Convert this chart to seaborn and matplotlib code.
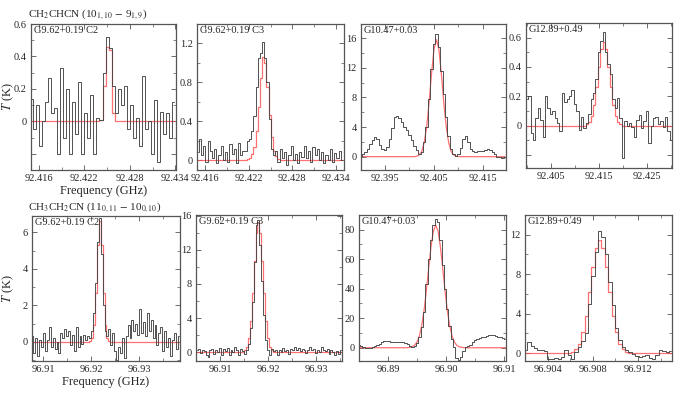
import numpy as np
import matplotlib
matplotlib.use('Agg')
import matplotlib.pyplot as plt
import seaborn as sns
from matplotlib.ticker import FixedLocator, FixedFormatter, MultipleLocator, FuncFormatter, AutoMinorLocator

sns.set_style('ticks')
plt.rcParams['font.family'] = ['Liberation Serif', 'DejaVu Serif']
plt.rcParams['mathtext.fontset'] = 'stix'

# ---- CH2CHCN (10_1,10 - 9_1,9) ----
# G9.62+0.19 C2 : first channel (GHz), channel width (GHz), spectrum and fit (K)
f0_1, df_1 = 92.4150, 0.0004
obs_1 = [0.14, -0.05, 0.10, -0.15, 0.00, 0.12, 0.27, 0.05, 0.08, -0.20,
         0.33, -0.10, 0.20, -0.20, 0.12, -0.08, 0.24, -0.20, 0.05, -0.10,
         0.16, -0.20, 0.02, 0.01, 0.30, 0.52, 0.45, 0.22, 0.05, 0.20,
         0.10, 0.22, -0.05, 0.10, -0.10, 0.02, -0.15, 0.28, -0.05, 0.00,
         -0.20, 0.13, -0.25, 0.06, -0.08, 0.05, -0.10, 0.12]
fit_1 = [0.0] * 23 + [0.01, 0.22, 0.46, 0.44, 0.05] + [0.0] * 20

# G9.62+0.19 C3
f0_2, df_2 = 92.4150, 0.0003
obs_2 = [0.08, 0.22, 0.05, 0.15, -0.02, 0.20, 0.10, 0.02, 0.12, -0.03,
         0.05, 0.15, 0.00, 0.08, -0.02, 0.17, 0.06, 0.12, -0.03, 0.18,
         0.05, 0.10, 0.10, 0.20, 0.22, 0.30, 0.45, 0.75, 1.05, 1.10,
         1.22, 1.05, 0.80, 0.42, 0.12, 0.05, 0.10, -0.02, 0.12, 0.02,
         0.08, -0.05, 0.05, 0.15, 0.00, 0.06, -0.03, 0.08, 0.03, 0.15,
         0.02, 0.10, -0.02, 0.14, 0.05, 0.12, 0.00, 0.08, -0.03, 0.05,
         0.00, 0.12, -0.02, 0.07, 0.02, 0.10, 0.00]
fit_2 = [0.0] * 23 + [0.01, 0.02, 0.06, 0.14, 0.30, 0.55, 0.85, 1.06, 1.00, 0.75,
                      0.46, 0.24, 0.10, 0.04, 0.01] + [0.0] * 29

# G10.47+0.03
f0_3, df_3 = 92.3900, 0.0005
obs_3 = [0.1, 0.3, 0.6, 1.1, 1.7, 2.2, 2.6, 2.4, 1.6, 1.0,
         0.9, 1.3, 2.4, 3.8, 5.3, 5.5, 5.2, 4.7, 4.0, 3.6,
         2.9, 2.2, 1.5, 0.9, 0.3, 0.6, 2.0, 4.0, 7.8, 11.8,
         15.2, 16.5, 14.8, 11.5, 8.5, 5.4, 2.8, 1.0, 0.3, 0.1,
         0.4, 1.2, 2.4, 2.8, 2.0, 1.1, 0.7, 0.6, 0.7, 0.8,
         0.8, 0.9, 1.0, 0.9, 0.6, 0.4, 0.0, -0.1, -0.2, -0.1]
fit_3 = [0.0] * 23 + [0.07, 0.24, 0.7, 1.9, 4.0, 7.3, 11.2, 14.5, 15.8, 14.5,
                      11.2, 7.3, 4.0, 1.9, 0.7, 0.24, 0.07] + [0.0] * 20

# G12.89+0.49
f0_4, df_4 = 92.4000, 0.0005
obs_4 = [0.18, 0.20, -0.05, -0.10, 0.05, 0.12, 0.04, -0.08, 0.20, 0.12,
         0.08, 0.10, 0.05, 0.02, -0.04, 0.22, 0.16, 0.18, 0.20, 0.24,
         0.15, 0.10, -0.03, 0.06, -0.02, 0.02, 0.08, 0.18, 0.22, 0.32,
         0.50, 0.58, 0.64, 0.50, 0.42, 0.35, 0.18, 0.12, 0.19, 0.05,
         -0.22, 0.03, 0.00, 0.02, -0.01, -0.08, 0.04, 0.07, -0.02, 0.03,
         0.10, -0.12, 0.00, 0.05, 0.06, 0.01, 0.03, -0.01, 0.06, -0.04,
         -0.10]
fit_4 = [0.0] * 25 + [0.008, 0.025, 0.067, 0.14, 0.26, 0.40, 0.52, 0.57, 0.52, 0.40,
                      0.26, 0.14, 0.067, 0.025, 0.008] + [0.0] * 21

# ---- CH3CH2CN (11_0,11 - 10_0,10) ----
f0_5, df_5 = 96.9078, 0.0004
obs_5 = [0.3, -0.6, 0.2, -0.8, 0.1, -0.3, 0.5, -0.5, 0.1, 0.8,
         -0.3, 0.2, -0.4, 0.0, -0.6, 0.5, 0.2, 0.7, 0.3, 0.6,
         -0.2, 0.4, -0.5, 0.8, -0.3, 0.3, -0.1, 0.4, 0.1, 0.3,
         0.2, 0.6, 1.6, 3.2, 5.5, 6.8, 4.8, 2.0, 0.6, 0.3,
         0.7, -0.2, 0.5, -0.5, -1.0, -0.3, -0.6, 0.2, -0.9, 0.3,
         0.9, 0.2, 1.2, 0.6, 1.0, 0.4, 1.8, 0.5, 1.1, 0.3,
         1.6, 0.6, 1.2, 0.2, 0.9, -0.2, 0.5, 0.8, -0.5, 0.6,
         -0.3, 0.2, -0.8, 0.1, 0.5, -0.4, 0.3]
fit_5 = [0.0] * 30 + [0.02, 0.19, 0.9, 2.7, 5.3, 6.6, 5.3, 2.7, 0.9, 0.19, 0.02] + [0.0] * 36

f0_6, df_6 = 96.9052, 0.0004
obs_6 = [0.2, 0.4, -0.1, 0.3, 0.1, -0.4, -0.6, 0.2, 0.4, -0.2,
         0.3, 0.0, 0.5, -0.3, 0.4, 0.1, 0.5, -0.4, 0.3, 0.0,
         0.6, 0.2, -0.3, 0.4, 0.1, -0.2, 0.3, 0.9, 2.8, 5.9,
         10.6, 14.9, 15.5, 12.6, 8.3, 4.4, 1.4, 0.3, -0.3, 0.4,
         0.1, 0.3, -0.4, 0.2, 0.0, 0.5, 0.1, 0.3, -0.2, 0.4,
         0.2, 0.6, 0.3, 0.5, 0.1, 0.4, 0.2, -0.1, 0.3, 0.6,
         0.2, 0.4, -0.1, 0.3, 0.0, 0.6, 0.3, 0.1, 0.4, -0.2,
         0.2, 0.0, -0.3, 0.1, -0.2, 0.2]
fit_6 = [0.0] * 24 + [0.05, 0.2, 0.63, 1.7, 3.7, 6.9, 10.7, 14.0, 15.3, 14.0,
                      10.7, 6.9, 3.7, 1.7, 0.63, 0.2, 0.05] + [0.0] * 35

f0_7, df_7 = 96.8850, 0.0004
obs_7 = [1.8, 1.0, 0.5, -0.3, -0.5, 0.0, 0.7, 1.0, 1.8, 2.5,
         3.8, 4.5, 4.8, 4.6, 4.0, 3.7, 4.2, 4.1, 3.9, 3.7,
         3.0, 2.3, 1.5, 0.8, 1.5, 3.5, 7.5, 14, 24, 43,
         60, 73, 83, 87, 85, 73, 56, 40, 26, 15,
         6, 0.5, -7, -8, -6, -2.5, 0.2, 1.2, 2.0, 4.2,
         5.0, 5.8, 6.3, 7.2, 7.6, 8.0, 8.3, 8.6, 8.7, 8.2,
         7.5, 7.2, 6.5, 6.2]
fit_7 = [0.0] * 21 + [0.08, 0.27, 0.73, 1.8, 4.0, 8.2, 15.1, 25.4, 38.9, 54.2,
                      68.7, 79.2, 83, 79.2, 68.7, 54.2, 38.9, 25.4, 15.1, 8.2,
                      4.0, 1.8, 0.73, 0.27, 0.08] + [0.0] * 18

f0_8, df_8 = 96.9020, 0.0003
obs_8 = [0.3, 1.1, 0.7, 0.5, 0.3, 0.3, 0.2, -0.6, -0.6, -0.5,
         -0.6, -0.4, 0.3, -0.2, -0.6, 0.1, 0.6, 1.2, 2.0, 5.0,
         7.8, 10.2, 12.4, 11.8, 10.0, 7.2, 4.9, 2.5, 1.3, 0.6,
         0.3, 0.1, -0.1, -0.3, -0.4, -0.3, -0.2, -0.5, -0.6, -0.2,
         0.3, 0.2, 0.1, 0.2]
fit_8 = [0.0] * 13 + [0.05, 0.15, 0.40, 0.97, 2.1, 3.8, 6.2, 8.7, 10.7, 11.5,
                      10.7, 8.7, 6.2, 3.8, 2.1, 0.97, 0.40, 0.15, 0.05] + [0.0] * 12

sources = ['G9.62+0.19 C2', 'G9.62+0.19 C3', 'G10.47+0.03', 'G12.89+0.49']
xtick_lists = [
    ['92.416', '92.422', '92.428', '92.434'],
    ['92.416', '92.422', '92.428', '92.434'],
    ['92.395', '92.405', '92.415'],
    ['92.405', '92.415', '92.425'],
    ['96.91', '96.92', '96.93'],
    ['96.91', '96.92', '96.93'],
    ['96.89', '96.90', '96.91'],
    ['96.904', '96.908', '96.912'],
]

W, H = 677, 394
fig = plt.figure(figsize=(W / 100, H / 100), dpi=100)

# pixel boxes (left, top, right, bottom), axis limits, y tick step, smooth fit?
panels = [
    ((31, 24, 176, 170), (92.41496, 92.4341), (-0.3, 0.6), 0.2, f0_1, df_1, obs_1, fit_1, False),
    ((197, 24, 344, 170), (92.4149, 92.4351), (-0.1, 1.4), 0.4, f0_2, df_2, obs_2, fit_2, False),
    ((361, 24, 506, 170), (92.3901, 92.4197), (-1.8, 17.9), 4, f0_3, df_3, obs_3, fit_3, True),
    ((526, 23, 672, 168), (92.3998, 92.4302), (-0.29, 0.70), 0.2, f0_4, df_4, obs_4, fit_4, False),
    ((32, 216, 180, 361), (96.9077, 96.9385), (-1.05, 6.9), 2, f0_5, df_5, obs_5, fit_5, False),
    ((196, 215, 342, 361), (96.9050, 96.9354), (-1.05, 16.1), 4, f0_6, df_6, obs_6, fit_6, False),
    ((359, 215, 506, 361), (96.8850, 96.9103), (-9, 90), 20, f0_7, df_7, obs_7, fit_7, True),
    ((525, 215, 672, 361), (96.90196, 96.91502), (-0.8, 14.0), 4, f0_8, df_8, obs_8, fit_8, False),
]

axes = []
for k, (box, xl, yl, ystep, f0, df, obs, fit, smooth) in enumerate(panels):
    l, t, r, b = box
    ax = fig.add_axes([l / W, 1 - b / H, (r - l) / W, (b - t) / H])
    freq = f0 + df * np.arange(len(obs))
    sns.lineplot(x=freq, y=np.array(fit), ax=ax, color='#ff4d4d', alpha=0.8, lw=0.9,
                 drawstyle='default' if smooth else 'steps-mid')
    sns.lineplot(x=freq, y=np.array(obs), ax=ax, color='#454545', lw=0.65,
                 drawstyle='steps-mid')
    ax.set_xlim(xl)
    ax.set_ylim(yl)
    labels = xtick_lists[k]
    ax.xaxis.set_major_locator(FixedLocator([float(s) for s in labels]))
    ax.xaxis.set_major_formatter(FixedFormatter(labels))
    ax.xaxis.set_minor_locator(AutoMinorLocator(2))
    ax.yaxis.set_major_locator(MultipleLocator(ystep))
    ax.yaxis.set_minor_locator(AutoMinorLocator(2))
    ax.yaxis.set_major_formatter(FuncFormatter(lambda v, p: '' if v < -1e-9 else f'{v:g}'))
    ax.tick_params(which='both', direction='in', top=True, right=True,
                   labelsize=7.5, color='#555555', pad=3)
    ax.tick_params(which='major', length=3.5, width=0.6)
    ax.tick_params(which='minor', length=2, width=0.5)
    for sp in ax.spines.values():
        sp.set_color('#555555')
        sp.set_linewidth(0.9)
    ax.text(0.02, 0.985, sources[k % 4], transform=ax.transAxes, ha='left', va='top',
            fontsize=7.5)
    ax.set_xlabel('')
    ax.set_ylabel('')
    axes.append(ax)

for ax in (axes[0], axes[4]):
    ax.set_xlabel('Frequency (GHz)', fontsize=9, labelpad=1)
    ax.set_ylabel(r'$T$ (K)', fontsize=9)
axes[0].yaxis.set_label_coords(-0.1, 0.5)
axes[4].yaxis.set_label_coords(-0.11, 0.5)

fig.text(28 / W, 1 - 15 / H, r'CH$_2$CHCN (10$_{1,10}$ $-$ 9$_{1,9}$)',
         ha='left', va='center', fontsize=8)
fig.text(28 / W, 1 - 208 / H, r'CH$_3$CH$_2$CN (11$_{0,11}$ $-$ 10$_{0,10}$)',
         ha='left', va='center', fontsize=8)

fig.savefig('out.png', dpi=100)
